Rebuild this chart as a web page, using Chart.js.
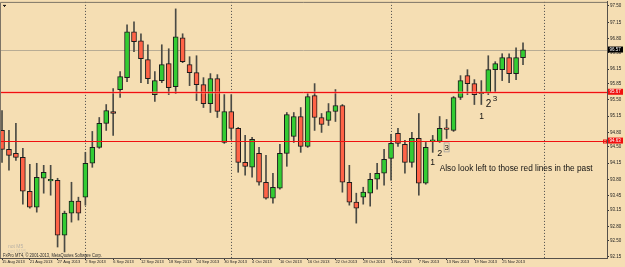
<!DOCTYPE html>
<html><head><meta charset="utf-8">
<script src="https://cdn.jsdelivr.net/npm/chart.js@4/dist/chart.umd.min.js"></script>
<style>html,body{margin:0;padding:0;background:#F5DEB3;overflow:hidden}#wrap{width:625px;height:267px}canvas{display:block}</style>
</head><body><div id="wrap"><canvas id="c" width="625" height="267"></canvas></div>
<script>
// ---- data (daily candles) ----
const dates = ['15 Aug 2013','16 Aug 2013','19 Aug 2013','20 Aug 2013','21 Aug 2013','22 Aug 2013','23 Aug 2013','26 Aug 2013','27 Aug 2013','28 Aug 2013','29 Aug 2013','30 Aug 2013',
'2 Sep 2013','3 Sep 2013','4 Sep 2013','5 Sep 2013','6 Sep 2013','9 Sep 2013','10 Sep 2013','11 Sep 2013','12 Sep 2013','13 Sep 2013','16 Sep 2013','17 Sep 2013','18 Sep 2013','19 Sep 2013','20 Sep 2013','23 Sep 2013','24 Sep 2013','25 Sep 2013','26 Sep 2013','27 Sep 2013','30 Sep 2013',
'1 Oct 2013','2 Oct 2013','3 Oct 2013','4 Oct 2013','7 Oct 2013','8 Oct 2013','9 Oct 2013','10 Oct 2013','11 Oct 2013','14 Oct 2013','15 Oct 2013','16 Oct 2013','17 Oct 2013','18 Oct 2013','21 Oct 2013','22 Oct 2013','23 Oct 2013','24 Oct 2013','25 Oct 2013','28 Oct 2013','29 Oct 2013','30 Oct 2013','31 Oct 2013',
'1 Nov 2013','4 Nov 2013','5 Nov 2013','6 Nov 2013','7 Nov 2013','8 Nov 2013','11 Nov 2013','12 Nov 2013','13 Nov 2013','14 Nov 2013','15 Nov 2013','18 Nov 2013','19 Nov 2013','20 Nov 2013','21 Nov 2013','22 Nov 2013','25 Nov 2013','26 Nov 2013','27 Nov 2013','28 Nov 2013'];
const openP = [94.846,94.443,94.358,94.273,93.551,93.212,93.827,93.770,93.785,92.617,93.084,93.339,93.424,94.146,94.485,94.995,95.249,95.717,95.971,96.948,96.757,96.354,95.610,95.908,96.269,95.780,96.821,96.247,96.078,95.823,95.419,95.950,94.591,95.249,94.889,94.167,94.061,94.358,93.742,93.403,93.615,94.358,94.719,95.143,94.506,95.589,95.122,95.059,95.249,95.377,93.742,93.318,93.424,93.509,93.806,93.933,94.252,94.782,94.549,94.167,94.676,93.721,94.613,94.613,94.889,94.846,95.547,96.014,95.844,95.632,95.653,96.141,96.141,96.396,96.057,96.396];
const highP = [95.271,94.846,94.995,94.464,94.124,94.146,94.103,94.103,93.827,93.127,93.742,93.424,94.379,94.825,95.122,95.398,95.738,96.099,97.097,97.160,96.906,96.672,96.099,96.672,96.587,97.436,96.906,96.417,96.438,95.971,96.057,96.035,95.610,95.610,94.910,94.740,94.697,94.485,94.316,93.933,94.549,95.228,95.228,95.334,95.632,95.844,95.207,95.419,95.717,95.398,94.103,93.509,93.636,93.933,94.146,94.443,94.761,94.889,94.634,94.804,95.207,94.591,94.740,95.143,95.080,95.568,96.014,96.141,95.929,95.908,96.438,96.311,96.481,96.481,96.608,96.714];
const lowP = [94.167,93.997,94.209,93.275,93.190,93.105,93.509,93.466,92.362,92.256,92.893,92.936,93.254,94.061,94.464,94.846,94.740,95.547,95.886,96.523,95.865,95.844,95.462,95.865,95.610,95.632,96.290,95.801,95.483,95.334,95.228,95.122,94.570,94.655,93.955,93.891,93.848,93.678,93.381,93.296,93.594,94.082,94.591,94.379,94.485,94.846,94.804,94.952,95.037,93.530,93.254,92.871,93.275,93.233,93.594,93.678,93.785,94.506,93.933,94.061,93.466,93.700,94.379,94.591,94.676,94.825,95.504,95.610,95.398,95.398,95.610,95.653,95.908,95.865,95.929,96.247];
const closeP = [94.443,94.316,94.273,93.551,93.212,93.848,93.955,93.785,92.617,93.084,93.339,93.084,94.146,94.485,94.995,95.271,95.207,95.992,96.948,96.736,96.375,95.950,95.908,96.247,95.759,96.842,96.311,96.078,95.823,95.419,95.950,95.249,95.249,94.889,94.167,94.082,94.655,93.742,93.403,93.636,94.358,95.186,95.143,94.506,95.568,95.122,94.974,95.249,95.377,93.742,93.318,93.190,93.530,93.806,93.933,94.231,94.570,94.570,94.167,94.676,93.721,94.485,94.620,94.889,94.868,95.547,95.908,95.844,95.610,95.653,96.141,96.269,96.396,96.057,96.396,96.566];

const xTickIndex = [0,4,8,12,16,20,24,28,32,36,40,44,48,52,56,60,64,68,72];
const yTickValues = [97.50,97.15,96.80,96.50,96.15,95.85,95.50,95.15,94.80,94.50,94.15,93.80,93.45,93.15,92.80,92.50,92.15];
const redLevels = [95.67, 94.63];
const bidPrice = 96.57;
const separatorIndex = [12,33,56,78];
const noteTexts = ['1','2','3','1','2','3','Also look left to those red lines in the past'];
const noteIndex = [62.0,63.0,64.0,69.05,70.05,70.95,63.0];
const notePrice = [94.17,94.36,94.485,95.143,95.398,95.53,94.02];

// ---- chart ----
const FONT = '"Liberation Sans", Arial, sans-serif';
const bull = '#33CC33', bear = '#FF6347';
const bodies = dates.map((d,i)=>({x:i, y:[openP[i], closeP[i]]}));
const wicks = dates.map((d,i)=>({x:i, y:[lowP[i], highP[i]]}));
const bodyColors = dates.map((d,i)=> closeP[i] >= openP[i] ? bull : bear);

const overlay = {
  id:'overlay',
  beforeDraw(chart){
    const c = chart.ctx; c.save(); c.fillStyle='#F5DEB3'; c.fillRect(0,0,chart.width,chart.height); c.restore();
  },
  beforeDatasetsDraw(chart){
    const {ctx:c, chartArea:a, scales:{x,y}} = chart;
    c.save();
    c.strokeStyle='#B8AC94'; c.lineWidth=1;
    const yb = Math.round(y.getPixelForValue(bidPrice))+0.5;
    c.beginPath(); c.moveTo(a.left,yb); c.lineTo(a.right,yb); c.stroke();
    c.setLineDash([1,2]); c.strokeStyle='#4a4a4a';
    separatorIndex.forEach(i=>{
      const px = Math.round(x.getPixelForValue(i))+0.5;
      c.beginPath(); c.moveTo(px,a.top); c.lineTo(px,a.bottom); c.stroke();
    });
    c.restore();
  },
  afterDatasetsDraw(chart){
    const {ctx:c, chartArea:a, scales:{x,y}} = chart;
    c.save();
    redLevels.forEach((v,k)=>{
      const py = Math.round(y.getPixelForValue(v))+0.5;
      if(k===0){ c.strokeStyle='rgba(255,140,130,0.55)'; c.lineWidth=2.5; c.beginPath(); c.moveTo(a.left,py); c.lineTo(a.right,py); c.stroke(); }
      c.strokeStyle='#F01010'; c.lineWidth=1;
      c.beginPath(); c.moveTo(a.left,py); c.lineTo(a.right,py); c.stroke();
      if(k===1){ c.strokeRect(a.right-3.5,py-1.5,3,3); }
    });
    c.fillStyle='#111'; c.textBaseline='middle';
    const sizes=[8.5,9,8,8.5,10,8,8.3];
    noteTexts.forEach((t,k)=>{
      const px = x.getPixelForValue(noteIndex[k]), py = y.getPixelForValue(notePrice[k]);
      c.font = sizes[k]+'px '+FONT;
      if(k===6){ c.textAlign='left';
        const w=c.measureText(t).width; c.save(); c.translate(px,py); c.scale(153/w,1); c.fillText(t,0,0); c.restore();
      } else { c.textAlign='center'; c.fillText(t,px,py);
        if(k===2){ c.strokeStyle='#9a9a9a'; c.lineWidth=0.7; c.strokeRect(px-2.5,py-4.5,5,9); }
      }
    });
    c.restore();
  },
  afterDraw(chart){
    const {ctx:c, chartArea:a, scales:{y}} = chart;
    c.save();
    c.strokeStyle='#7d7466'; c.lineWidth=1;
    c.beginPath(); c.moveTo(a.left+0.5,a.bottom); c.lineTo(a.left+0.5,a.top+0.5); c.lineTo(a.right,a.top+0.5); c.stroke();
    c.font='4.5px '+FONT; c.textAlign='left'; c.textBaseline='middle';
    const box=(v,bg)=>{ const py=y.getPixelForValue(v); c.fillStyle=bg; c.fillRect(a.right+1,py-3,15,6); c.fillStyle='#fff'; c.fillText(v.toFixed(2),a.right+2.5,py+0.3); };
    box(bidPrice,'#000');
    redLevels.forEach(v=>box(v,'#F01010'));
    c.fillStyle='#B9B2A6'; c.font='5px '+FONT; c.fillText('not M5', a.left+8, 247);
    c.fillStyle='#D6CAB0'; c.fillText('not M15', a.left+8, 252);
    c.fillStyle='#2a2a2a'; c.font='4.5px '+FONT;
    const ct='FxPro MT4, \u00A9 2001-2013, MetaQuotes Software Corp.';
    const w=c.measureText(ct).width; c.translate(a.left+3,256); c.scale(99/w,1); c.fillText(ct,0,0);
    c.restore();
    c.save(); c.fillStyle='#111'; c.fillRect(a.left+3,a.top+3,3,1); c.fillRect(a.left+4,a.top+4,1,1); c.restore();
  }
};

new Chart(document.getElementById('c'), {
  type:'bar',
  data:{ datasets:[
    { label:'wick', data:wicks, backgroundColor:'#4a4a44', borderWidth:0, barThickness:1, grouped:false, order:2 },
    { label:'body', data:bodies, backgroundColor:bodyColors, borderColor:'#1c1c1c', borderWidth:1, borderSkipped:false, barThickness:5, minBarLength:1.5, grouped:false, order:1 }
  ]},
  options:{
    responsive:false, animation:false, devicePixelRatio:1,
    layout:{ padding:{left:0, top:1, right:0, bottom:0} },
    plugins:{ legend:{display:false}, tooltip:{enabled:false} },
    scales:{
      x:{ type:'linear', min:-0.29, max:87.09, position:'bottom', offset:false,
        grid:{ drawOnChartArea:false, drawTicks:true, tickLength:2, color:'#333', offset:false },
        border:{ display:true, color:'#55504a' },
        ticks:{ autoSkip:false, maxRotation:0, align:'start', padding:0, color:'#222', font:{size:4, family:FONT, lineHeight:1},
          callback:(v)=> dates[v] },
        afterBuildTicks:(s)=>{ s.ticks = xTickIndex.map(v=>({value:v})); },
        afterFit:(s)=>{ s.height = 9; }
      },
      y:{ type:'linear', position:'right', min:92.128, max:97.585,
        grid:{ drawOnChartArea:false, drawTicks:true, tickLength:2, color:'#333' },
        border:{ display:true, color:'#55504a' },
        ticks:{ autoSkip:false, padding:1, color:'#222', font:{size:4.5, family:FONT, lineHeight:0.4},
          callback:(v)=> Number(v).toFixed(2) },
        afterBuildTicks:(s)=>{ s.ticks = yTickValues.map(v=>({value:v})); },
        afterFit:(s)=>{ s.width = 18; }
      }
    }
  },
  plugins:[overlay]
});
</script></body></html>
